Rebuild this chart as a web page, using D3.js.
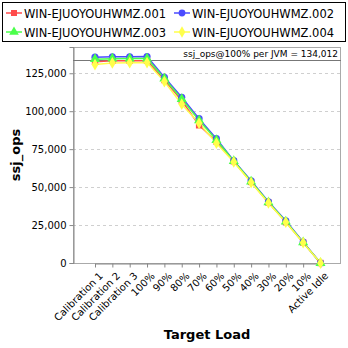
<!DOCTYPE html>
<html><head><meta charset="utf-8">
<script src="https://cdn.jsdelivr.net/npm/d3@7"></script>
<style>body{margin:0;background:#fff}svg{display:block}</style>
</head><body>
<svg id="c" width="348" height="348"></svg>
<script>
const categories = ["Calibration 1","Calibration 2","Calibration 3","100%","90%","80%","70%","60%","50%","40%","30%","20%","10%","Active Idle"];
const seriesNames = ["WIN-EJUOYOUHWMZ.001","WIN-EJUOYOUHWMZ.002","WIN-EJUOYOUHWMZ.003","WIN-EJUOYOUHWMZ.004"];
const s001 = [132500,133200,133300,133300,120500,107000,90700,80000,67000,53400,39800,27000,13500,0];
const s002 = [135600,135800,135900,136000,122400,109200,95100,81900,67400,54200,40300,27800,13800,0];
const s003 = [134300,134600,134700,134700,121500,108000,94000,81000,67200,53700,40000,27300,13600,0];
const s004 = [130700,131800,132000,132050,119500,104600,92000,78900,66600,53000,39600,26900,13400,0];
const yTicks = [0,25000,50000,75000,100000,125000];
const refValue = 134012;
const colors = ["#ff4b4b","#4b4bff","#4bff4b","#ffff4b"];
const shapes = [d3.symbolSquare,d3.symbolCircle,d3.symbolTriangle,d3.symbolDiamond];
const allSeries = [s001,s002,s003,s004];

const svg = d3.select("#c");
const L=73,R=341,T=47,B=263;
const x = d3.scalePoint().domain(categories).range([95,320.5]);
const y = d3.scaleLinear().domain([0,142300]).range([B,T]);
const font = "DejaVu Sans, sans-serif";

// legend
svg.append("rect").attr("x",2.5).attr("y",2.5).attr("width",343).attr("height",39).attr("fill","#fff").attr("stroke","#000").attr("stroke-width",1);
seriesNames.forEach((n,i)=>{
  const lx = i%2===0 ? 6 : 174, ly = i<2 ? 13 : 32;
  const g = svg.append("g");
  g.append("line").attr("x1",lx).attr("x2",lx+16).attr("y1",ly).attr("y2",ly).attr("stroke",colors[i]).attr("stroke-width",1.5);
  g.append("path").attr("d",d3.symbol().type(shapes[i]).size(i===2?40:(i===3?38:36))()).attr("transform",`translate(${lx+8},${ly})`).attr("fill",colors[i]);
  g.append("text").attr("x",lx+18).attr("y",ly+4.5).attr("font-family",font).attr("font-size",12)
    .attr("textLength",142).attr("lengthAdjust","spacingAndGlyphs").attr("fill","#000").text(n);
});

// grid
svg.append("g").selectAll("line").data(yTicks.slice(1)).join("line")
  .attr("x1",L).attr("x2",R).attr("y1",d=>Math.round(y(d))+0.5).attr("y2",d=>Math.round(y(d))+0.5)
  .attr("stroke","#cfcfcf").attr("stroke-dasharray","3,3");

// frame
svg.append("rect").attr("x",L+0.5).attr("y",T+0.5).attr("width",R-L-1).attr("height",B-T).attr("fill","none").attr("stroke","#aaa");

// axes
const ya = svg.append("g").attr("transform",`translate(${L+0.5},0)`).call(d3.axisLeft(y).tickValues(yTicks).tickSize(4).tickFormat(d3.format(",")));
ya.select(".domain").attr("stroke","#888");
ya.selectAll("line").attr("stroke","#888");
ya.selectAll("text").attr("font-family",font).attr("font-size",10).attr("fill","#000");

const xa = svg.append("g").attr("transform",`translate(0,${B+0.5})`).call(d3.axisBottom(x).tickSize(4).tickSizeOuter(0));
xa.select(".domain").attr("stroke","#888");
xa.selectAll("line").attr("stroke","#888");
xa.selectAll("text").attr("font-family",font).attr("font-size",10).attr("fill","#000")
  .attr("text-anchor","end").attr("dy","0").attr("transform","translate(3,8) rotate(-45)");

// reference line
svg.append("line").attr("x1",L).attr("x2",R).attr("y1",Math.round(y(refValue))+0.5).attr("y2",Math.round(y(refValue))+0.5).attr("stroke","#777").attr("stroke-width",1.2);
svg.append("text").attr("x",338).attr("y",y(refValue)-3).attr("text-anchor","end").attr("font-family",font).attr("font-size",9).attr("fill","#000").text("ssj_ops@100% per JVM = "+d3.format(",")(refValue));

// series
const line = d3.line().x((d,i)=>x(categories[i])).y(d=>y(d));
allSeries.forEach((s,i)=>{
  svg.append("path").datum(s).attr("d",line).attr("fill","none").attr("stroke",colors[i]).attr("stroke-width",1.5);
});
allSeries.forEach((s,i)=>{
  svg.append("g").selectAll("path").data(s).join("path")
    .attr("d",d3.symbol().type(shapes[i]).size(i===2?44:40)())
    .attr("transform",(d,j)=>`translate(${x(categories[j])},${y(d)})`).attr("fill",colors[i]);
});

// axis titles
svg.append("text").attr("transform","translate(20,155) rotate(-90)").attr("text-anchor","middle").attr("font-family",font).attr("font-weight","bold").attr("font-size",13).text("ssj_ops");
svg.append("text").attr("x",207).attr("y",339).attr("text-anchor","middle").attr("font-family",font).attr("font-weight","bold").attr("font-size",13).text("Target Load");
</script>
</body></html>
